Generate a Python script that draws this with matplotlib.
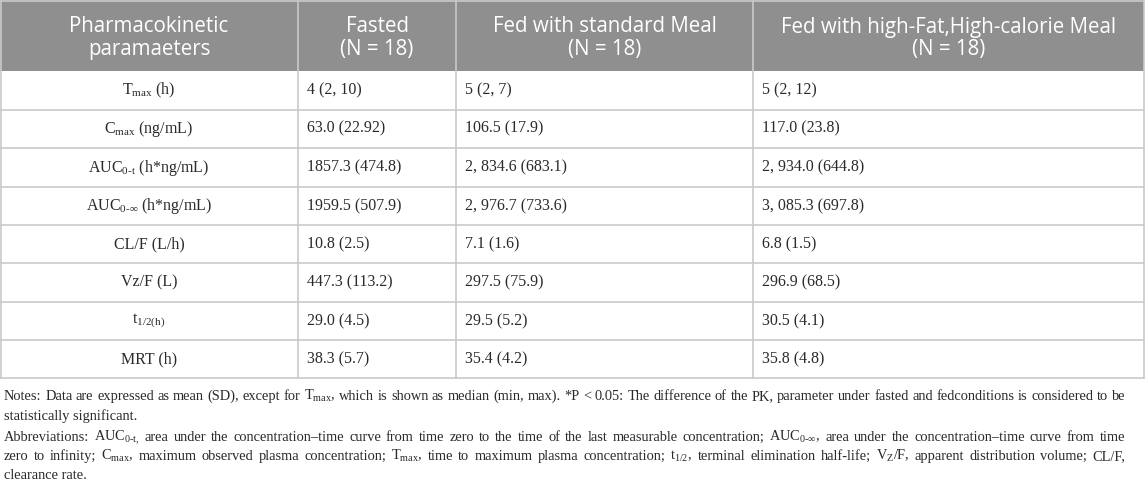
#!/usr/bin/env python
"""Pharmacokinetic parameters table (fasted vs fed) drawn with matplotlib."""

import matplotlib.pyplot as plt
from matplotlib.patches import Rectangle

plt.rcParams["mathtext.fontset"] = "custom"
plt.rcParams["mathtext.rm"] = "Liberation Serif"
plt.rcParams["mathtext.it"] = "Liberation Serif:italic"
plt.rcParams["mathtext.bf"] = "Liberation Serif:bold"

# Table content
header_labels = [
    ("Pharmacokinetic", "paramaeters"),
    ("Fasted", "(N = 18)"),
    ("Fed with standard Meal", "(N = 18)"),
    ("Fed with high-Fat,High-calorie Meal", "(N = 18)"),
]
parameters = [
    r"T$_{\mathrm{max}}$ (h)",
    r"C$_{\mathrm{max}}$ (ng/mL)",
    r"AUC$_{\mathrm{0\text{-}t}}$ (h*ng/mL)",
    r"AUC$_{\mathrm{0\text{-}\infty}}$ (h*ng/mL)",
    "CL/F (L/h)",
    "Vz/F (L)",
    r"t$_{\mathrm{1/2(h)}}$",
    "MRT (h)",
]
fasted = ["4 (2, 10)", "63.0 (22.92)", "1857.3 (474.8)", "1959.5 (507.9)",
          "10.8 (2.5)", "447.3 (113.2)", "29.0 (4.5)", "38.3 (5.7)"]
fed_standard = ["5 (2, 7)", "106.5 (17.9)", "2, 834.6 (683.1)", "2, 976.7 (733.6)",
                "7.1 (1.6)", "297.5 (75.9)", "29.5 (5.2)", "35.4 (4.2)"]
fed_high_fat = ["5 (2, 12)", "117.0 (23.8)", "2, 934.0 (644.8)", "3, 085.3 (697.8)",
                "6.8 (1.5)", "296.9 (68.5)", "30.5 (4.1)", "35.8 (4.8)"]

# (text, justified?)
notes_lines = [
    (r"Notes: Data are expressed as mean (SD), except for T$_{\mathrm{max}}$, which is shown as median (min, max). "
     r"*P < 0.05: The difference of the PK, parameter under fasted and fedconditions is considered to be", True),
    ("statistically significant.", False),
    (r"Abbreviations: AUC$_{\mathrm{0\text{-}t},}$ area under the concentration–time curve from time zero to the time "
     r"of the last measurable concentration; AUC$_{\mathrm{0\text{-}\infty}}$, area under the concentration–time curve from time", True),
    (r"zero to infinity; C$_{\mathrm{max}}$, maximum observed plasma concentration; T$_{\mathrm{max}}$, time to maximum "
     r"plasma concentration; t$_{\mathrm{1/2}}$, terminal elimination half-life; V$_{\mathrm{Z}}$/F, apparent distribution volume; CL/F,", True),
    ("clearance rate.", False),
]

# Layout in pixel units (y downwards)
W, H = 1145, 483
col_edges = [0, 298, 456, 753, 1144]
row_edges = [0, 71, 109.5, 148, 187, 225, 263, 302, 340, 378]
header_line_y = [27, 50]
notes_baseline = [400, 420, 441, 460, 479]
notes_left, notes_right = 4, 1125

header_bg = "#8f8f8f"
grid_color = "#c9c9c9"
text_color = "#2a2a2a"
notes_size = 10.4

fig = plt.figure(figsize=(W / 100, H / 100), dpi=100)
ax = fig.add_axes([0, 0, 1, 1])
ax.set_xlim(0, W)
ax.set_ylim(H, 0)
ax.axis("off")

# Header band
ax.add_patch(Rectangle((0, 0), col_edges[-1], row_edges[1], facecolor=header_bg,
                       edgecolor="none"))
for i, lines in enumerate(header_labels):
    cx = (col_edges[i] + col_edges[i + 1]) / 2
    for y, line in zip(header_line_y, lines):
        ax.text(cx, y, line, ha="center", va="center", color="white",
                fontsize=14.8, family="Open Sans")

# Body rows
columns = [fasted, fed_standard, fed_high_fat]
for r, param in enumerate(parameters):
    cy = (row_edges[r + 1] + row_edges[r + 2]) / 2
    ax.text((col_edges[0] + col_edges[1]) / 2, cy, param, ha="center", va="center",
            color=text_color, fontsize=11.5, family="Liberation Serif")
    for c, values in enumerate(columns):
        ax.text(col_edges[c + 1] + 9, cy, values[r], ha="left", va="center",
                color=text_color, fontsize=11.5, family="Liberation Serif")

# Grid lines
for y in row_edges[2:]:
    ax.plot([0, col_edges[-1]], [y, y], color=grid_color, lw=1.2)
for x in col_edges[1:-1]:
    ax.plot([x, x], [0, row_edges[-1]], color=grid_color, lw=1.2)
ax.plot([0.6, 0.6], [0, row_edges[-1]], color=grid_color, lw=1.2)
ax.plot([col_edges[-1], col_edges[-1]], [0, row_edges[-1]], color=grid_color, lw=1.2)
ax.plot([0, col_edges[-1]], [0.6, 0.6], color=grid_color, lw=1.2)

# Notes under the table, justified like the journal layout
renderer = fig.canvas.get_renderer()
px_per_unit = fig.bbox.width / W
for y, (line, justify) in zip(notes_baseline, notes_lines):
    if not justify:
        ax.text(notes_left, y, line, ha="left", va="baseline", color=text_color,
                fontsize=notes_size, family="Liberation Serif")
        continue
    words = line.split(" ")
    texts = [ax.text(0, y, w, ha="left", va="baseline", color=text_color,
                     fontsize=notes_size, family="Liberation Serif") for w in words]
    widths = [t.get_window_extent(renderer).width / px_per_unit for t in texts]
    gap = (notes_right - notes_left - sum(widths)) / (len(words) - 1)
    x = notes_left
    for t, w in zip(texts, widths):
        t.set_x(x)
        x += w + gap

fig.savefig("out.png", dpi=100)
